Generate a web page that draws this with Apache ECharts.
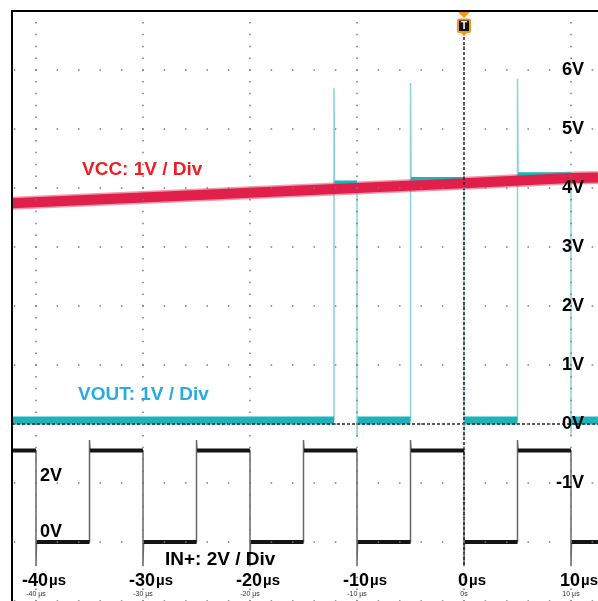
<!DOCTYPE html>
<html><head><meta charset="utf-8">
<script src="https://cdn.jsdelivr.net/npm/echarts@6/dist/echarts.min.js"></script>
<style>html,body{margin:0;padding:0;background:#fff}#c{width:598px;height:601px}</style>
</head><body><div id="c"></div>
<script>
// ---- axis ticks / labels ----
const timeTicks = [-40, -30, -20, -10, 0, 10];
const timeTickBig = ['-40', '-30', '-20', '-10', '0', '10'];
const timeTickSmall = ['-40 µs', '-30 µs', '-20 µs', '-10 µs', '0s', '10 µs'];
const voltTicks = [6, 5, 4, 3, 2, 1, 0, -1];
const voltTickLabels = ['6V', '5V', '4V', '3V', '2V', '1V', '0V', '-1V'];
const channelTitles = ['VCC: 1V / Div', 'VOUT: 1V / Div', 'IN+: 2V / Div'];
const inPlusLevelLabels = ['2V', '0V'];

// ---- VCC (V, 1V/div) : [time µs, volts] ----
const vccPoints = [[-42.24, 3.74], [-30, 3.84], [-20, 3.92], [-10, 4.0], [0, 4.08], [10, 4.17], [12.52, 4.18]];

// ---- VOUT (V, 1V/div) ----
const voutPoints = [
  [-42.24, 0.06], [-12.15, 0.06], [-12.15, 5.69], [-12.1, 4.06], [-10, 4.06], [-10, -0.22], [-9.95, 0.06],
  [-5, 0.06], [-5, 5.78], [-4.95, 4.12], [0, 4.12], [0, -0.2], [0.05, 0.06],
  [5, 0.06], [5, 5.85], [5.05, 4.2], [10, 4.2], [10, -0.2], [10.05, 0.06], [12.52, 0.06]
];

// ---- IN+ (V, 2V/div, offset -2 div) ----
const inPlusPoints = [
  [-42.24, 3.1], [-40, 3.1], [-40, -0.8], [-39.95, 0], [-35, 0], [-35, 3.46], [-34.95, 3.1],
  [-30, 3.1], [-30, -0.8], [-29.95, 0], [-25, 0], [-25, 3.46], [-24.95, 3.1],
  [-20, 3.1], [-20, -0.8], [-19.95, 0], [-15, 0], [-15, 3.46], [-14.95, 3.1],
  [-10, 3.1], [-10, -0.8], [-9.95, 0], [-5, 0], [-5, 3.46], [-4.95, 3.1],
  [0, 3.1], [0, -0.8], [0.05, 0], [5, 0], [5, 3.46], [5.05, 3.1],
  [10, 3.1], [10, -0.8], [10.05, 0], [12.52, 0]
];
const inPlusScale = 2;    // V per div
const inPlusOffset = -2;  // divisions

const inPlusScreen = inPlusPoints.map(p => [p[0], inPlusOffset + p[1] / inPlusScale]);

function levels(pts) {
  const out = [];
  for (let i = 0; i < pts.length - 1; i++) {
    const a = pts[i], b = pts[i + 1];
    if (a[1] === b[1] && b[0] - a[0] > 0.5) {
      out.push([a[0], a[1]], [b[0], b[1]], [(a[0] + b[0]) / 2, '-']);
    }
  }
  return out;
}

const FONT = 'Liberation Sans, Arial, sans-serif';
const chart = echarts.init(document.getElementById('c'), null, {renderer: 'canvas'});
chart.setOption({
  animation: false,
  backgroundColor: '#fff',
  grid: {left: -71, top: 11, width: 749, height: 590, containLabel: false, outerBoundsMode: 'none'},
  xAxis: {
    type: 'value', min: -50, max: 20, interval: 10,
    axisLine: {show: false}, axisTick: {show: false},
    splitLine: {show: true, lineStyle: {color: '#7a7a7a', width: 1.5, type: [1.5, 10.3], dashOffset: 0.75}},
    z: 10,
    axisLabel: {
      inside: true, margin: 2,
      formatter: v => {
        const i = timeTicks.indexOf(v);
        if (i < 0) return '';
        return '{n|' + timeTickBig[i] + '}{u|µs}\n{s|' + timeTickSmall[i] + '}';
      },
      rich: {
        n: {fontSize: 18, fontWeight: 'bold', color: '#000', fontFamily: FONT, lineHeight: 18, padding: [0, 1, 0, 16]},
        u: {fontSize: 15, fontWeight: 'bold', color: '#000', fontFamily: FONT, lineHeight: 18},
        s: {fontSize: 7, color: '#333', fontFamily: FONT, lineHeight: 9}
      }
    }
  },
  yAxis: {
    type: 'value', min: -3, max: 7, interval: 1, position: 'right', z: 10,
    axisLine: {show: false}, axisTick: {show: false},
    splitLine: {show: true, lineStyle: {color: '#7a7a7a', width: 1.5, type: [1.5, 19.9], dashOffset: 0.75}},
    axisLabel: {
      inside: true, margin: 94, fontSize: 18, fontWeight: 'bold', color: '#000', fontFamily: FONT,
      formatter: v => { const i = voltTicks.indexOf(v); return i < 0 ? '' : voltTickLabels[i]; }
    }
  },
  series: [
    {type: 'line', name: 'VOUT edges', data: voutPoints, showSymbol: false, z: 2,
     lineStyle: {color: '#88d2d8', width: 1.5}},
    {type: 'line', name: 'VCC halo', data: vccPoints, showSymbol: false, z: 3, silent: true,
     lineStyle: {color: 'rgba(225,31,75,0.45)', width: 13, cap: 'butt'}},
    {type: 'line', name: 'VOUT', data: levels(voutPoints), showSymbol: false, connectNulls: false, z: 3,
     lineStyle: {color: '#1cb3bb', width: 8, cap: 'butt'}},
    {type: 'line', name: 'IN+ edges', data: inPlusScreen, showSymbol: false, z: 2,
     lineStyle: {color: '#666', width: 1.5}},
    {type: 'line', name: 'IN+', data: levels(inPlusScreen), showSymbol: false, connectNulls: false, z: 3,
     lineStyle: {color: '#151515', width: 4, cap: 'butt'}},
    {type: 'line', name: 'VCC', data: vccPoints, showSymbol: false, z: 4,
     lineStyle: {color: '#e11f4b', width: 10, cap: 'butt'}},
    {type: 'line', name: 'markers', data: [], z: 6,
     markLine: {
       silent: true, symbol: ['none', 'none'], label: {show: false},
       lineStyle: {type: [3, 2], color: '#222', width: 1.5},
       data: [
         [{coord: [-42.24, 0]}, {coord: [13, 0]}],
         [{coord: [0, 6.56]}, {coord: [0, -2.39]}]
       ]
     }}
  ],
  graphic: [
    {type: 'rect', z: 99, shape: {x: 0, y: 0, width: 11, height: 601}, style: {fill: '#fff'}},
    {type: 'rect', z: 99, shape: {x: 0, y: 0, width: 598, height: 10}, style: {fill: '#fff'}},
    {type: 'rect', z: 100, shape: {x: 12, y: 11, width: 640, height: 640}, style: {fill: null, stroke: '#000', lineWidth: 2}},
    {type: 'text', z: 100, style: {x: 82, y: 170, text: channelTitles[0], font: 'bold 19px ' + FONT, fill: '#f21c24', verticalAlign: 'middle'}},
    {type: 'text', z: 100, style: {x: 78, y: 395, text: channelTitles[1], font: 'bold 19px ' + FONT, fill: '#29abe2', verticalAlign: 'middle'}},
    {type: 'text', z: 100, style: {x: 165, y: 560, text: channelTitles[2], font: 'bold 19px ' + FONT, fill: '#000', verticalAlign: 'middle'}},
    {type: 'text', z: 100, style: {x: 40, y: 476, text: inPlusLevelLabels[0], font: 'bold 18px ' + FONT, fill: '#000', verticalAlign: 'middle'}},
    {type: 'text', z: 100, style: {x: 40, y: 532, text: inPlusLevelLabels[1], font: 'bold 18px ' + FONT, fill: '#000', verticalAlign: 'middle'}},
    {type: 'polygon', z: 101, shape: {points: [[458, 12], [470, 12], [464, 18]]}, style: {fill: '#f7941d'}},
    {type: 'rect', z: 100, shape: {x: 458, y: 19.5, width: 12, height: 12.5, r: 1}, style: {fill: '#111', stroke: '#f7941d', lineWidth: 2}},
    {type: 'text', z: 101, style: {x: 464, y: 26, text: 'T', font: 'bold 10px ' + FONT, fill: '#fff', align: 'center', verticalAlign: 'middle'}},
    {type: 'polygon', z: 100, shape: {points: [[461, 33], [467, 33], [464, 36]]}, style: {fill: '#f7941d'}}
  ]
});
</script></body></html>
